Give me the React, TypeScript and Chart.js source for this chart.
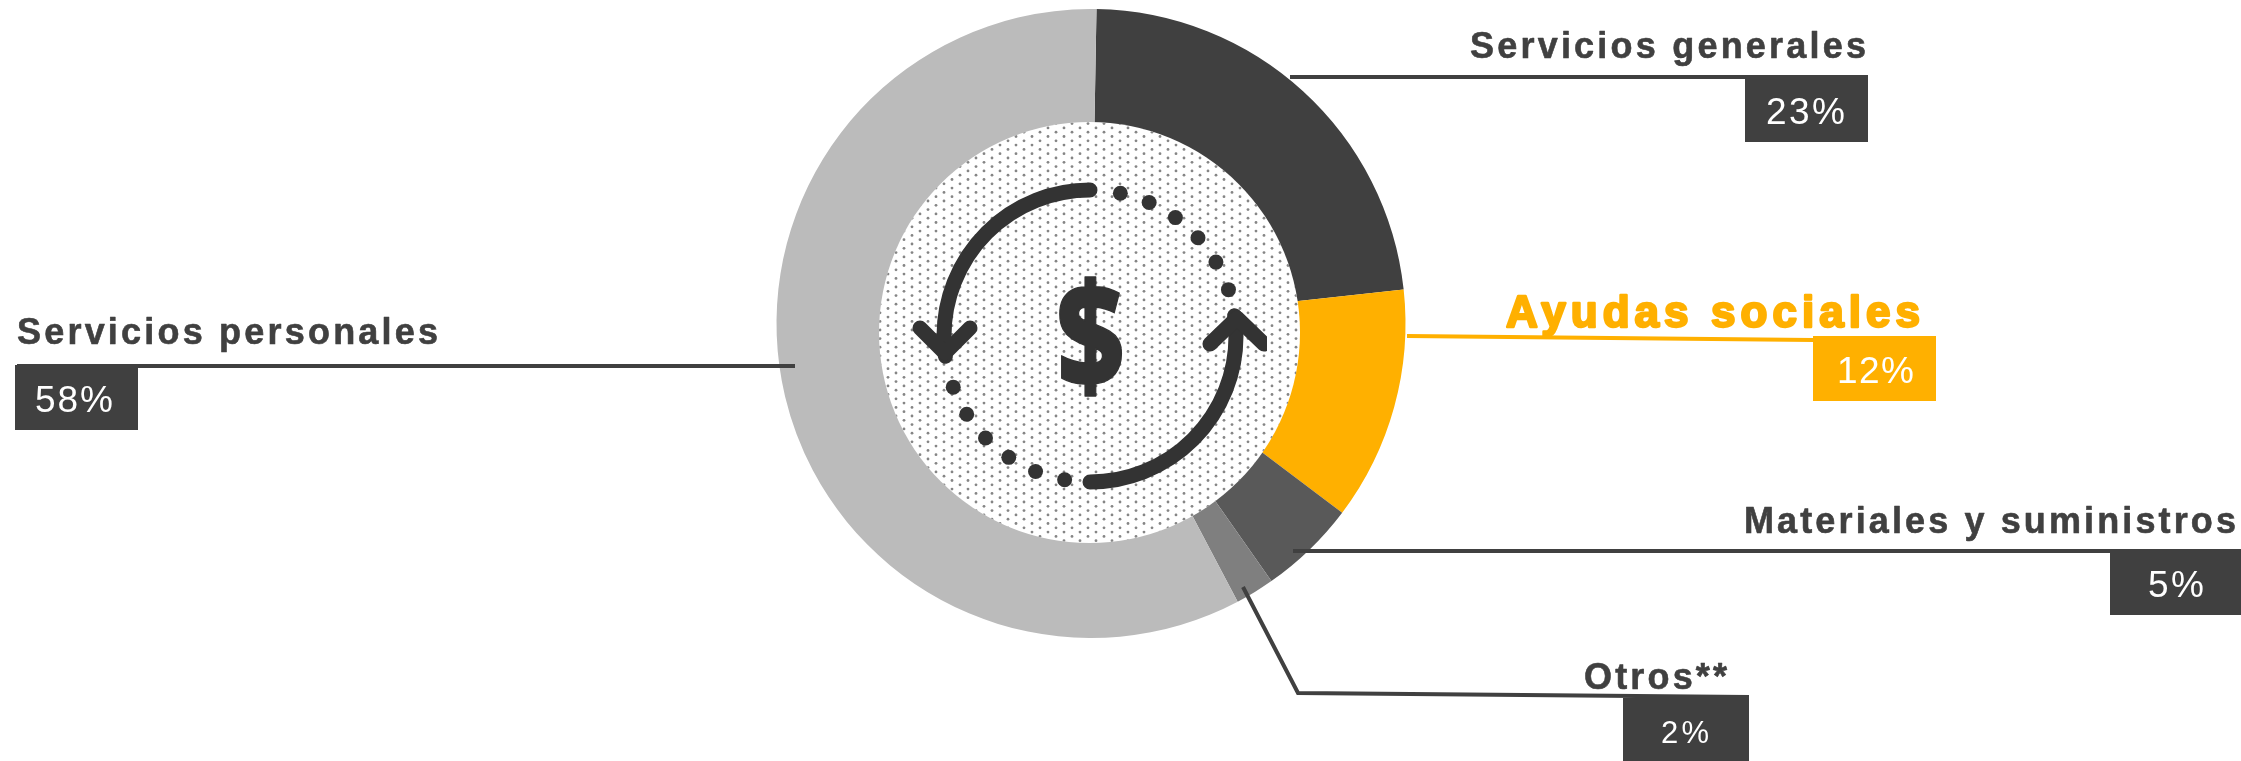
import React, { useEffect, useRef } from "react";
import { Chart, registerables } from "chart.js";

Chart.register(...registerables);

const categories = ["Servicios generales", "Ayudas sociales", "Materiales y suministros", "Otros**", "Servicios personales"];
const values = [23, 12, 5, 2, 58];
const sliceColors = ["#404040", "#FFB000", "#595959", "#7F7F7F", "#BBBBBB"];

const INK = "#404040";
const ORANGE = "#FFB000";
const W = 2241;
const H = 761;

type Callout = {
  name: [number, number, number];
  nameSize: number;
  nameStroke: number;
  pct: [number, number, number];
  pctSize: number;
  box: [number, number, number, number];
  line: [number, number][];
  color: string;
};

const callouts: Callout[] = [
  { name: [1470, 396, 58], nameSize: 36, nameStroke: 0.6, pct: [1766, 79, 124], pctSize: 37, box: [1745, 75, 1868, 142], line: [[1290, 77], [1868, 77]], color: INK },
  { name: [1506, 414, 327], nameSize: 44, nameStroke: 2.4, pct: [1837, 77, 383], pctSize: 37, box: [1813, 336, 1936, 401], line: [[1407, 336], [1813, 340]], color: ORANGE },
  { name: [1744, 492, 533], nameSize: 36, nameStroke: 0.6, pct: [2148, 56, 597], pctSize: 37, box: [2110, 550, 2241, 615], line: [[1293, 551], [2241, 551]], color: INK },
  { name: [1584, 143, 689], nameSize: 36, nameStroke: 0.6, pct: [1661, 48, 743], pctSize: 31, box: [1623, 698, 1749, 761], line: [[1243, 587], [1298, 693], [1749, 697]], color: INK },
  { name: [17, 421, 344], nameSize: 36, nameStroke: 0.6, pct: [35, 78, 412], pctSize: 37, box: [15, 365, 138, 430], line: [[17, 366], [795, 366]], color: INK },
];

function fitText(ctx: CanvasRenderingContext2D, text: string, x: number, width: number, y: number, stroke = 0) {
  (ctx as any).letterSpacing = "0px";
  const natural = ctx.measureText(text).width;
  const spacing = (width - natural) / Math.max(1, text.length - 1);
  (ctx as any).letterSpacing = `${spacing}px`;
  ctx.fillText(text, x, y);
  if (stroke > 0) {
    ctx.lineWidth = stroke;
    ctx.lineJoin = "round";
    ctx.strokeText(text, x, y);
  }
  (ctx as any).letterSpacing = "0px";
}

function drawCentre(ctx: CanvasRenderingContext2D) {
  const cx = 1089.5;
  const cy = 332.5;
  const r = 210.5;
  ctx.save();
  ctx.beginPath();
  ctx.arc(cx, cy, r, 0, Math.PI * 2);
  ctx.fillStyle = "#ffffff";
  ctx.fill();
  ctx.clip();
  ctx.fillStyle = "#858585";
  const stepX = 16;
  const stepY = 8.6;
  for (let n = -30; n <= 30; n++) {
    for (let m = -30; m <= 30; m++) {
      const xa = 904 + n * stepX;
      const ya = 282.7 + m * stepY;
      for (const [x, y] of [[xa, ya], [xa + stepX / 2, ya + stepY / 2]]) {
        ctx.beginPath();
        ctx.arc(x, y, 1.4, 0, Math.PI * 2);
        ctx.fill();
      }
    }
  }
  ctx.restore();

  const ix = 1090;
  const iy = 336;
  const ir = 146;
  const ICON = "#333333";
  ctx.save();
  ctx.beginPath();
  ctx.rect(800, 100, 467, 500);
  ctx.clip();
  ctx.strokeStyle = ICON;
  ctx.fillStyle = ICON;
  ctx.lineCap = "round";
  ctx.lineJoin = "round";
  ctx.lineWidth = 15;
  const rad = (deg: number) => (deg * Math.PI) / 180;
  ctx.beginPath();
  ctx.arc(ix, iy, ir, rad(-90), rad(172), true);
  ctx.stroke();
  ctx.beginPath();
  ctx.arc(ix, iy, ir, rad(90), rad(-8), true);
  ctx.stroke();
  ctx.beginPath();
  ctx.moveTo(ix - 170, iy - 8);
  ctx.lineTo(ix - 145, iy + 17);
  ctx.lineTo(ix - 120, iy - 8);
  ctx.stroke();
  ctx.beginPath();
  ctx.moveTo(ix + 120, iy + 8);
  ctx.lineTo(ix + 147, iy - 18);
  ctx.lineTo(ix + 174, iy + 8);
  ctx.stroke();
  for (let i = 0; i < 6; i++) {
    for (const start of [12, 190]) {
      const a = rad(start + i * 11.9 - 90);
      ctx.beginPath();
      ctx.arc(ix + ir * Math.cos(a), iy + ir * Math.sin(a), 7.5, 0, Math.PI * 2);
      ctx.fill();
    }
  }
  ctx.translate(1090.5, 388);
  ctx.scale(0.8, 1);
  ctx.font = "800 146px 'Open Sans'";
  ctx.textAlign = "center";
  ctx.textBaseline = "alphabetic";
  ctx.fillText("$", 0, 0);
  ctx.strokeStyle = ICON;
  ctx.lineWidth = 1.5;
  ctx.strokeText("$", 0, 0);
  ctx.restore();
}

const overlay = {
  id: "overlay",
  afterDraw(chart: Chart) {
    const ctx = chart.ctx;
    ctx.save();
    drawCentre(ctx);
    ctx.textAlign = "left";
    ctx.textBaseline = "alphabetic";
    callouts.forEach((c, i) => {
      ctx.strokeStyle = c.color;
      ctx.lineWidth = 4;
      ctx.lineJoin = "miter";
      ctx.beginPath();
      c.line.forEach(([x, y], k) => (k ? ctx.lineTo(x, y) : ctx.moveTo(x, y)));
      ctx.stroke();
      const [x0, y0, x1, y1] = c.box;
      ctx.fillStyle = c.color;
      ctx.fillRect(x0, y0, x1 - x0, y1 - y0);
      ctx.fillStyle = "#ffffff";
      ctx.font = `${c.pctSize}px 'Liberation Sans'`;
      fitText(ctx, `${values[i]}%`, c.pct[0], c.pct[1], c.pct[2]);
      ctx.fillStyle = c.color;
      ctx.strokeStyle = c.color;
      ctx.font = `bold ${c.nameSize}px 'Liberation Sans'`;
      fitText(ctx, categories[i], c.name[0], c.name[1], c.name[2], c.nameStroke);
    });
    ctx.restore();
  },
};

export default function App() {
  const ref = useRef<HTMLCanvasElement>(null);
  useEffect(() => {
    document.body.style.margin = "0";
    const chart = new Chart(ref.current!, {
      type: "doughnut",
      data: {
        labels: categories,
        datasets: [{ data: values, backgroundColor: sliceColors, borderWidth: 0 }],
      },
      options: {
        responsive: false,
        animation: false,
        rotation: 1,
        cutout: "62%",
        layout: { padding: { left: 1091 - 314.5, right: W - 1091 - 314.5, top: 323.5 - 314.5, bottom: H - 323.5 - 314.5 } },
        plugins: { legend: { display: false }, tooltip: { enabled: false }, title: { display: false } },
      },
      plugins: [overlay],
    });
    return () => chart.destroy();
  }, []);
  return <canvas ref={ref} width={W} height={H} style={{ display: "block", width: W, height: H, background: "#ffffff" }} />;
}
